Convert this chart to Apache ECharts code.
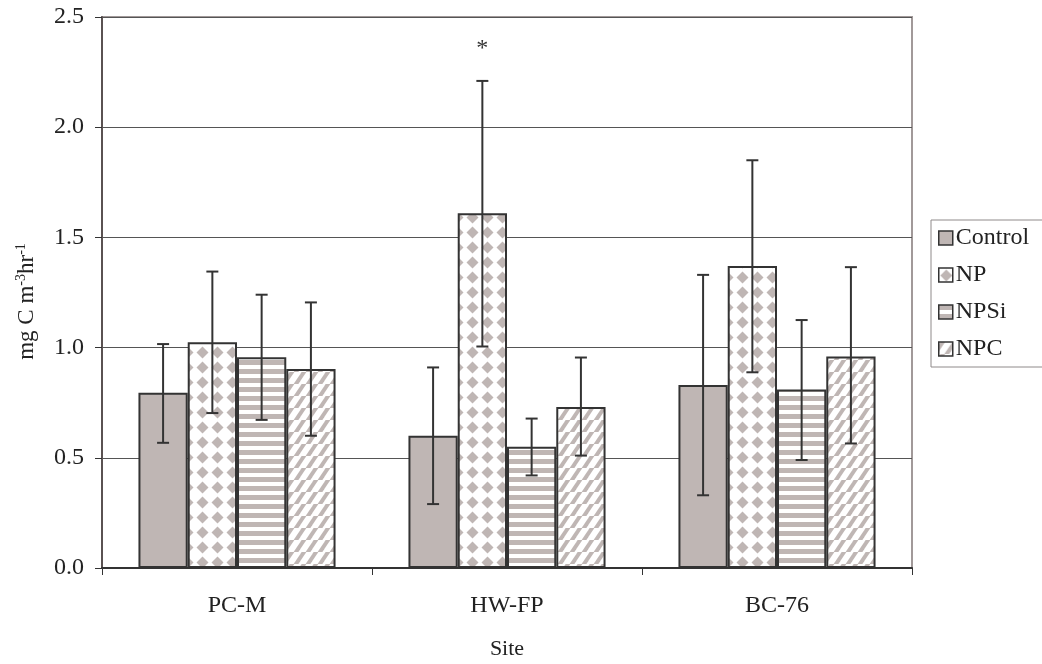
<!DOCTYPE html>
<html>
<head>
<meta charset="utf-8">
<script src="https://cdn.jsdelivr.net/npm/echarts@6/dist/echarts.min.js"></script>
<style>
html,body{margin:0;padding:0;background:#fff;}
#chart{width:1042px;height:664px;}
</style>
</head>
<body>
<div id="chart"></div>
<script>
// ---- data ----
const categories = ['PC-M', 'HW-FP', 'BC-76'];
const seriesNames = ['Control', 'NP', 'NPSi', 'NPC'];
const controlValues = [0.795, 0.60, 0.83];
const npValues = [1.024, 1.61, 1.37];
const npsiValues = [0.956, 0.55, 0.81];
const npcValues = [0.903, 0.73, 0.96];
const controlLow = [0.568, 0.29, 0.33];
const controlHigh = [1.016, 0.91, 1.33];
const npLow = [0.703, 1.005, 0.888];
const npHigh = [1.345, 2.21, 1.85];
const npsiLow = [0.672, 0.42, 0.49];
const npsiHigh = [1.24, 0.678, 1.125];
const npcLow = [0.60, 0.51, 0.565];
const npcHigh = [1.205, 0.955, 1.365];
const npSignificance = ['', '*', ''];
const yTicks = [0, 0.5, 1.0, 1.5, 2.0, 2.5];

const TAUPE = '#bfb6b4';
const EDGE = '#333333';
const FONT = '"Liberation Serif","DejaVu Serif",serif';

function makeCanvas(w, h, draw) {
  const c = document.createElement('canvas');
  c.width = w; c.height = h;
  const ctx = c.getContext('2d');
  ctx.fillStyle = '#ffffff';
  ctx.fillRect(0, 0, w, h);
  draw(ctx);
  return c;
}
const diamondCanvas = makeCanvas(15, 15, ctx => {
  ctx.fillStyle = TAUPE;
  ctx.beginPath();
  ctx.moveTo(7.5, 1.5); ctx.lineTo(13.5, 7.5); ctx.lineTo(7.5, 13.5); ctx.lineTo(1.5, 7.5);
  ctx.closePath(); ctx.fill();
});
const hstripeCanvas = makeCanvas(9, 9, ctx => {
  ctx.fillStyle = TAUPE;
  ctx.fillRect(0, 0, 9, 5);
});
const diagCanvas = makeCanvas(12, 12, ctx => {
  ctx.strokeStyle = TAUPE;
  ctx.lineWidth = 4;
  for (let k = -12; k <= 24; k += 12) {
    ctx.beginPath();
    ctx.moveTo(k - 12, 12 + 12); ctx.lineTo(k + 12, -12);
    ctx.stroke();
  }
});

const fills = [
  TAUPE,
  { image: diamondCanvas, repeat: 'repeat' },
  { image: hstripeCanvas, repeat: 'repeat' },
  { image: diagCanvas, repeat: 'repeat' }
];
const values = [controlValues, npValues, npsiValues, npcValues];
const lows = [controlLow, npLow, npsiLow, npcLow];
const highs = [controlHigh, npHigh, npsiHigh, npcHigh];
const notes = [['', '', ''], npSignificance, ['', '', ''], ['', '', '']];

const GAP = 0.27;
const series = [];
seriesNames.forEach((name, i) => {
  series.push({
    name: name,
    type: 'bar',
    data: values[i],
    barGap: '0%',
    barCategoryGap: (GAP * 100) + '%',
    itemStyle: { color: fills[i], borderColor: EDGE, borderWidth: 2 },
    z: 2
  });
});
seriesNames.forEach((name, i) => {
  series.push({
    type: 'custom',
    name: name + ' err',
    z: 5,
    silent: true,
    data: categories.map((c, j) => [j, lows[i][j], highs[i][j], notes[i][j]]),
    renderItem: function (params, api) {
      const j = api.value(0);
      const band = api.size([1, 0])[0];
      const bw = band * (1 - GAP) / 4;
      const dx = (i - 1.5) * bw;
      const lo = api.coord([j, api.value(1)]);
      const hi = api.coord([j, api.value(2)]);
      const x = lo[0] + dx;
      const cap = 6;
      const st = { stroke: EDGE, lineWidth: 2 };
      const children = [
        { type: 'line', shape: { x1: x, y1: hi[1], x2: x, y2: lo[1] }, style: st },
        { type: 'line', shape: { x1: x - cap, y1: hi[1], x2: x + cap, y2: hi[1] }, style: st },
        { type: 'line', shape: { x1: x - cap, y1: lo[1], x2: x + cap, y2: lo[1] }, style: st }
      ];
      const note = notes[i][j];
      if (note) {
        children.push({
          type: 'text',
          style: { text: note, x: x, y: hi[1] - 20, align: 'center', verticalAlign: 'bottom',
                   fill: EDGE, font: '24px ' + FONT }
        });
      }
      return { type: 'group', children: children };
    }
  });
});

const chart = echarts.init(document.getElementById('chart'), null, { renderer: 'canvas' });
chart.setOption({
  animation: false,
  backgroundColor: '#ffffff',
  textStyle: { fontFamily: FONT },
  grid: {
    left: 102, right: 130, top: 17, bottom: 96,
    containLabel: false,
    outerBoundsMode: 'none',
    show: true, borderColor: '#a19999', borderWidth: 2
  },
  legend: {
    data: seriesNames,
    orient: 'vertical',
    left: 931, top: 220,
    padding: [6, 14, 6, 7],
    itemWidth: 14, itemHeight: 14,
    itemGap: 13,
    icon: 'rect',
    borderColor: '#8f8a8a', borderWidth: 1,
    textStyle: { fontFamily: FONT, fontSize: 24, color: '#222', padding: [0, 0, 0, -2] },
    itemStyle: { borderColor: EDGE, borderWidth: 1.5 }
  },
  xAxis: {
    type: 'category',
    data: categories,
    name: 'Site',
    nameLocation: 'middle',
    nameGap: 70,
    nameTextStyle: { fontFamily: FONT, fontSize: 22, color: '#222' },
    axisLine: { lineStyle: { color: EDGE, width: 2 } },
    axisTick: { show: true, length: 7, alignWithLabel: false, lineStyle: { color: '#333', width: 1 } },
    axisLabel: { fontFamily: FONT, fontSize: 24, color: '#222', margin: 26 },
    splitLine: { show: false }
  },
  yAxis: {
    type: 'value',
    min: yTicks[0], max: yTicks[yTicks.length - 1], interval: 0.5,
    name: '{t|mg C m}{s|-3}{t|hr}{s|-1}',
    nameLocation: 'middle',
    nameGap: 62,
    nameRotate: 90,
    nameTextStyle: {
      fontFamily: FONT, color: '#222',
      padding: [0, 18, 0, 0],
      rich: {
        t: { fontFamily: FONT, fontSize: 23, color: '#222' },
        s: { fontFamily: FONT, fontSize: 14, color: '#222', padding: [0, 0, 12, 0] }
      }
    },
    axisLine: { show: true, lineStyle: { color: '#5a5252', width: 2 } },
    axisTick: { show: true, length: 7, lineStyle: { color: '#333', width: 1 } },
    axisLabel: { fontFamily: FONT, fontSize: 24, color: '#222', margin: 18,
                 formatter: v => v.toFixed(1) },
    splitLine: { show: true, lineStyle: { color: '#555', width: 1 } }
  },
  series: series
});
</script>
</body>
</html>
